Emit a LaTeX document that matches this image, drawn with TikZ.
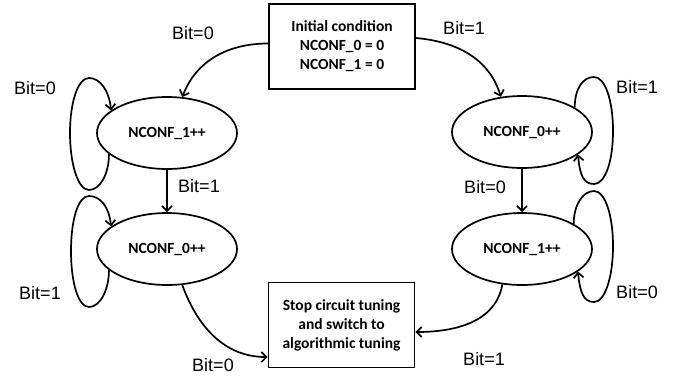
\documentclass[tikz,border=0pt]{standalone}
\usepackage{fontspec}
\setmainfont{Liberation Sans}
\newfontfamily\carlito{Carlito}
\usetikzlibrary{arrows.meta,calc,shapes.geometric}
\begin{document}
\begin{tikzpicture}[x=1pt,y=1pt,
  line width=1.7pt,
  arr/.style={-{Straight Barb[length=5pt,width=10pt,line width=1.7pt]}},
  state/.style={ellipse,draw,minimum width=140pt,minimum height=72pt,inner sep=0pt,
    font=\carlito\bfseries\fontsize{15.5}{19}\selectfont},
  boxnode/.style={rectangle,draw,minimum width=146pt,minimum height=85pt,inner sep=0pt,
    align=center,font=\carlito\bfseries\fontsize{15.5}{19}\selectfont},
  lab/.style={inner sep=0pt,font=\fontsize{18}{20}\selectfont}]
\useasboundingbox (0,0) rectangle (676,-375);
\node[boxnode] (init) at (342,-46.5) {Initial condition\\NCONF\_0 = 0\\NCONF\_1 = 0};
\node[boxnode] (stop) at (341.5,-325) {Stop circuit tuning\\and switch to\\algorithmic tuning};
\node[state] (a1) at (167,-133) {NCONF\_1++};
\node[state] (b1) at (167,-249) {NCONF\_0++};
\node[state] (a2) at (522,-132) {NCONF\_0++};
\node[state] (b2) at (522,-249) {NCONF\_1++};
% labels
\node[lab] (l1) at (193,-33) {Bit=0};
\node[lab] (l2) at (35,-88) {Bit=0};
\node[lab] (l3) at (199,-186) {Bit=1};
\node[lab] (l4) at (40,-293) {Bit=1};
\node[lab] (l5) at (213,-365) {Bit=0};
\node[lab] (l6) at (464,-28) {Bit=1};
\node[lab] (l7) at (637,-87) {Bit=1};
\node[lab] (l8) at (485,-187) {Bit=0};
\node[lab] (l9) at (637,-292) {Bit=0};
\node[lab] (l10) at (484,-359) {Bit=1};
% connectors
\draw[arr] ([yshift=3pt]init.west) to[out=180,in=69] (a1.67);
\draw[arr] ([yshift=8.5pt]init.east) to[out=-5,in=107] (a2.121);
\draw[arr] (a1.south) -- (b1.north);
\draw[arr] (a2.south) -- (b2.north);
\draw[arr] (b1.293) to[out=-70,in=180] ([yshift=-32pt]stop.west);
\draw[arr] (b2.241) to[out=-100,in=0] ([yshift=-7pt]stop.east);
% self loops (left)
\draw[arr] (a1.200) .. controls +(0,-20) and +(11,0) .. ($(a1)+(-78,-57)$)
  .. controls +(-11,0) and +(0,-31) .. ($(a1)+(-97,0)$)
  .. controls +(0,31) and +(-11,0) .. ($(a1)+(-78,55)$)
  .. controls +(11,0) and +(-2,20) .. (a1.158);
\draw[arr] (b1.200) .. controls +(0,-20) and +(11,0) .. ($(b1)+(-78,-58)$)
  .. controls +(-11,0) and +(0,-31) .. ($(b1)+(-96,-2)$)
  .. controls +(0,31) and +(-11,0) .. ($(b1)+(-78,53)$)
  .. controls +(11,0) and +(-2,20) .. (b1.158);
% self loops (right)
\draw[arr] (a2.25) .. controls +(0,19) and +(-11,0) .. ($(a2)+(72,55)$)
  .. controls +(11,0) and +(0,31) .. ($(a2)+(91,1)$)
  .. controls +(0,-31) and +(11,0) .. ($(a2)+(72,-52)$)
  .. controls +(-11,0) and +(2,-20) .. (a2.-22);
\draw[arr] (b2.26) .. controls +(0,19) and +(-11,0) .. ($(b2)+(72,58)$)
  .. controls +(11,0) and +(0,31) .. ($(b2)+(91,3)$)
  .. controls +(0,-31) and +(11,0) .. ($(b2)+(72,-53)$)
  .. controls +(-11,0) and +(2,-20) .. (b2.-22);
\end{tikzpicture}
\end{document}
